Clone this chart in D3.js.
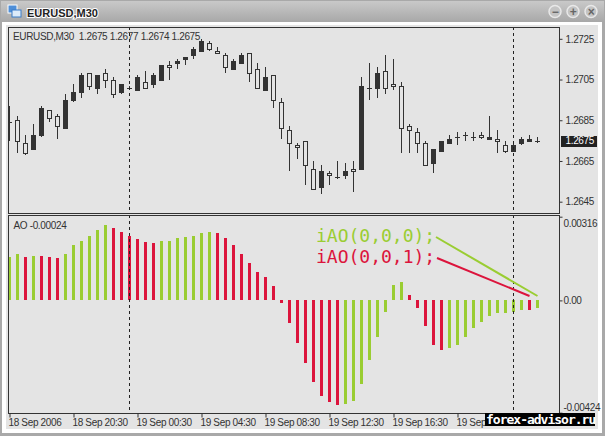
<!DOCTYPE html>
<html>
<head>
<meta charset="utf-8">
<script src="https://cdn.jsdelivr.net/npm/d3@7"></script>
<style>
  html, body { margin: 0; padding: 0; background: #fff; }
  svg { display: block; }
  text { font-family: "Liberation Sans", sans-serif; font-size: 10px; letter-spacing: -0.35px; fill: #333; }
</style>
</head>
<body>
<svg id="chart" width="605" height="436"></svg>
<script>
// prices in pips above 1.0000
const opens = [12684,12675,12669,12678,12691,12686,12682,12695,12699,12707,12702,12707,12705,12698,12703,12701,12706,12701,12707,12712,12711,12714,12716,12720,12724,12720,12718,12711,12714,12717,12708,12701,12706,12695,12681,12674,12672,12663,12651,12660,12658,12657,12660,12660,12702,12701,12708,12701,12702,12681,12680,12674,12663,12671,12675,12676,12677,12678,12677,12677,12677,12675,12670,12673,12676,12676,12675];
const closes = [12684,12685,12674,12671,12678,12690,12687,12681,12695,12699,12708,12701,12708,12705,12699,12701,12700,12704,12703,12705,12712,12713,12715,12717,12719,12723,12719,12717,12710,12713,12718,12710,12700,12707,12694,12680,12673,12675,12661,12652,12659,12657,12658,12661,12661,12701,12701,12709,12703,12702,12682,12679,12674,12664,12670,12674,12677,12678,12677,12678,12676,12676,12673,12670,12674,12675,12675];
const highs = [12692,12687,12678,12683,12692,12690,12688,12698,12703,12708,12708,12707,12710,12706,12703,12702,12707,12709,12708,12712,12714,12715,12716,12721,12725,12724,12721,12718,12715,12718,12718,12713,12711,12707,12696,12682,12674,12675,12665,12663,12660,12665,12664,12665,12706,12713,12711,12717,12715,12704,12683,12681,12675,12671,12675,12678,12679,12679,12679,12679,12687,12680,12675,12675,12677,12678,12677];
const lows = [12675,12669,12668,12671,12677,12684,12676,12681,12694,12696,12700,12698,12701,12696,12698,12700,12700,12701,12701,12705,12705,12710,12712,12715,12719,12719,12718,12708,12710,12713,12704,12701,12700,12691,12676,12660,12666,12653,12651,12649,12653,12656,12656,12650,12661,12695,12696,12698,12700,12669,12669,12669,12663,12659,12670,12674,12673,12675,12675,12676,12676,12669,12669,12670,12673,12675,12674];

// AO in units of 0.00001
const aoValues = [162,174,162,166,166,162,159,177,208,223,242,264,283,275,260,245,230,219,215,223,226,234,238,245,253,257,253,234,208,177,143,109,87,53,-11,-87,-159,-238,-309,-362,-385,-396,-392,-381,-317,-226,-140,-45,57,68,19,-30,-98,-170,-189,-181,-170,-140,-106,-83,-60,-49,-49,-45,-38,-38,-30];
const aoKinds = "GGRGRRRGGGGGG" + "RRRRRR" + "GGGGGGG" + "RRRRRRRRRRRRRRRR" + "GGGGGGGG" + "RRRRR" + "GGGGGGGGGG" + "RG";

const priceTicks = [12725, 12705, 12685, 12665, 12645];
const aoTicks = [0.00316, 0, -0.00424];
const timeLabels = ["18 Sep 2006", "18 Sep 20:30", "19 Sep 00:30", "19 Sep 04:30", "19 Sep 08:30", "19 Sep 12:30", "19 Sep 16:30", "19 Sep 20:30"];
const timeTickBars = [0, 8, 16, 24, 32, 40, 48, 56];
const separatorBars = [15, 63];
const lastPrice = 12675;

const GREEN = "#9acd32", RED = "#dc143c", INK = "#333";
const svg = d3.select("#chart");

const defs = svg.append("defs");
const grad = defs.append("linearGradient").attr("id", "titleGrad").attr("x2", 0).attr("y2", 1);
grad.append("stop").attr("offset", 0).attr("stop-color", "#c9c9c9");
grad.append("stop").attr("offset", 1).attr("stop-color", "#a8a8a8");
defs.append("clipPath").attr("id", "priceClip").append("rect")
  .attr("x", 8).attr("y", 27).attr("width", 551).attr("height", 186);
defs.append("clipPath").attr("id", "aoClip").append("rect")
  .attr("x", 8).attr("y", 215).attr("width", 551).attr("height", 198);

// window chrome
svg.append("rect").attr("width", 605).attr("height", 436).attr("fill", "#a9a9a9");
svg.append("rect").attr("x", 1).attr("y", 1).attr("width", 603).attr("height", 21).attr("fill", "url(#titleGrad)");
svg.append("rect").attr("x", 2).attr("y", 22).attr("width", 600).attr("height", 411).attr("fill", "#fff");
svg.append("rect").attr("x", 6).attr("y", 25).attr("width", 592).attr("height", 404).attr("fill", "#e4e4e4");

const icon = svg.append("g");
icon.append("rect").attr("x", 8).attr("y", 5).attr("width", 9).attr("height", 8).attr("fill", "#4f8fd8").attr("stroke", "#fff");
icon.append("rect").attr("x", 12).attr("y", 10).attr("width", 9).attr("height", 7).attr("fill", "#dcebfa").attr("stroke", "#3b7cc8");

svg.append("text").attr("x", 27).attr("y", 17)
  .style("font-weight", "bold").style("font-size", "11px").style("letter-spacing", "0").style("fill", "#222")
  .style("paint-order", "stroke").style("stroke", "#fff").style("stroke-width", "2px")
  .text("EURUSD,M30");

[["\u2212", 555], ["+", 573], ["\u00d7", 591]].forEach(([glyph, cx]) => {
  svg.append("circle").attr("cx", cx).attr("cy", 11.5).attr("r", 6)
    .attr("fill", "#c4c4c4").attr("stroke", "#e8e8e8").attr("stroke-width", 1.5);
  svg.append("text").attr("x", cx).attr("y", 15.5).attr("text-anchor", "middle")
    .style("font-size", "12px").style("font-weight", "bold").style("fill", "#666").text(glyph);
});

const x = d3.scaleLinear().domain([0, 66]).range([9.5, 537.5]);
const yPrice = d3.scaleLinear().domain([12645, 12725]).range([201.7, 38.8]);
const yAo = d3.scaleLinear().domain([-0.00424, 0.00316]).range([412.7, 216.7]);

// candles
const candles = svg.append("g").attr("clip-path", "url(#priceClip)");
opens.forEach((open, i) => {
  const close = closes[i];
  const cx = x(i);
  const top = Math.round(yPrice(Math.max(open, close)));
  const bottom = Math.round(yPrice(Math.min(open, close)));
  candles.append("line")
    .attr("x1", cx).attr("x2", cx)
    .attr("y1", Math.round(yPrice(highs[i]))).attr("y2", Math.round(yPrice(lows[i])))
    .attr("stroke", INK);
  if (close === open) {
    candles.append("line")
      .attr("x1", cx - 2.5).attr("x2", cx + 2.5)
      .attr("y1", top + 0.5).attr("y2", top + 0.5)
      .attr("stroke", INK);
  } else if (close > open) {
    candles.append("rect")
      .attr("x", cx - 2).attr("y", top + 0.5)
      .attr("width", 4).attr("height", bottom - top)
      .attr("fill", "#e4e4e4").attr("stroke", INK);
  } else {
    candles.append("rect")
      .attr("x", cx - 2.5).attr("y", top)
      .attr("width", 5).attr("height", bottom - top + 1)
      .attr("fill", INK);
  }
});

// AO histogram
svg.append("g").attr("clip-path", "url(#aoClip)")
  .selectAll("rect").data(aoValues).enter().append("rect")
  .attr("x", (d, i) => x(i) - 1.5)
  .attr("width", 3)
  .attr("y", d => Math.round(yAo(Math.max(0, d / 1e5))))
  .attr("height", d => Math.abs(Math.round(yAo(d / 1e5)) - Math.round(yAo(0))))
  .attr("fill", (d, i) => aoKinds[i] === "G" ? GREEN : RED);

// period separators
separatorBars.forEach(bar => {
  [[27, 213], [215, 413]].forEach(([y1, y2]) => {
    svg.append("line")
      .attr("x1", x(bar)).attr("x2", x(bar)).attr("y1", y1).attr("y2", y2)
      .attr("stroke", "#222").attr("stroke-dasharray", "3,3");
  });
});

// panel frames
[[27, 186], [215, 198]].forEach(([top, h]) => {
  svg.append("rect").attr("x", 8.5).attr("y", top + 0.5).attr("width", 551).attr("height", h)
    .attr("fill", "none").attr("stroke", INK);
});

// axes
const priceAxis = svg.append("g").attr("transform", "translate(559.5,0)")
  .call(d3.axisRight(yPrice).tickValues(priceTicks).tickSize(3).tickPadding(3)
    .tickFormat(d => (d / 1e4).toFixed(4)));
priceAxis.select(".domain").remove();

const aoAxis = svg.append("g").attr("transform", "translate(559.5,0)")
  .call(d3.axisRight(yAo).tickValues(aoTicks).tickSize(3).tickPadding(1)
    .tickFormat(d => d === 0 ? "0.00" : d.toFixed(5)));
aoAxis.select(".domain").remove();
aoAxis.selectAll("text").attr("dy", d => d > 0 ? "0.95em" : d < 0 ? "-0.25em" : "0.3em");

const timeAxis = svg.append("g").attr("transform", "translate(0,413.5)")
  .call(d3.axisBottom(x)
    .tickValues(timeTickBars).tickSize(4).tickPadding(1)
    .tickFormat((d, i) => timeLabels[i]));
timeAxis.select(".domain").remove();
timeAxis.selectAll("text").attr("text-anchor", "start").attr("dx", "-1.5");

svg.selectAll(".tick line").attr("stroke", INK);
svg.selectAll(".tick text").style("font-family", "\"Liberation Sans\", sans-serif").style("font-size", "10px").attr("fill", INK);

// last price marker
svg.append("rect").attr("x", 561).attr("y", Math.round(yPrice(lastPrice)) - 5).attr("width", 36).attr("height", 11).attr("fill", "#222");
svg.append("text").attr("x", 565.5).attr("y", yPrice(lastPrice) + 3.5)
  .style("fill", "#fff").text((lastPrice / 1e4).toFixed(4));

// legends inside panels
svg.append("text").attr("x", 13).attr("y", 39.5).attr("xml:space", "preserve")
  .text("EURUSD,M30  1.2675 1.2677 1.2674 1.2675");
svg.append("text").attr("x", 13.5).attr("y", 229).text("AO -0.00024");

// callouts
svg.append("text").attr("x", 316).attr("y", 242)
  .style("font-family", "\"DejaVu Sans Mono\", monospace").style("font-size", "18px").style("letter-spacing", "0").style("fill", GREEN)
  .text("iAO(0,0,0);");
svg.append("text").attr("x", 316).attr("y", 262.5)
  .style("font-family", "\"DejaVu Sans Mono\", monospace").style("font-size", "18px").style("letter-spacing", "0").style("fill", RED)
  .text("iAO(0,0,1);");
svg.append("line").attr("x1", 436).attr("y1", 237).attr("x2", x(66)).attr("y2", 296)
  .attr("stroke", GREEN).attr("stroke-width", 2);
svg.append("line").attr("x1", 437).attr("y1", 258).attr("x2", x(65)).attr("y2", 296)
  .attr("stroke", RED).attr("stroke-width", 2);

// watermark
svg.append("rect").attr("x", 485).attr("y", 413).attr("width", 110).attr("height", 13).attr("fill", "#000");
svg.append("text").attr("x", 486).attr("y", 424)
  .style("font-family", "\"DejaVu Sans Mono\", monospace").style("font-weight", "bold").style("font-size", "13px").style("letter-spacing", "-1px").style("fill", "#fff")
  .text("forex-advisor.ru");
</script>
</body>
</html>
